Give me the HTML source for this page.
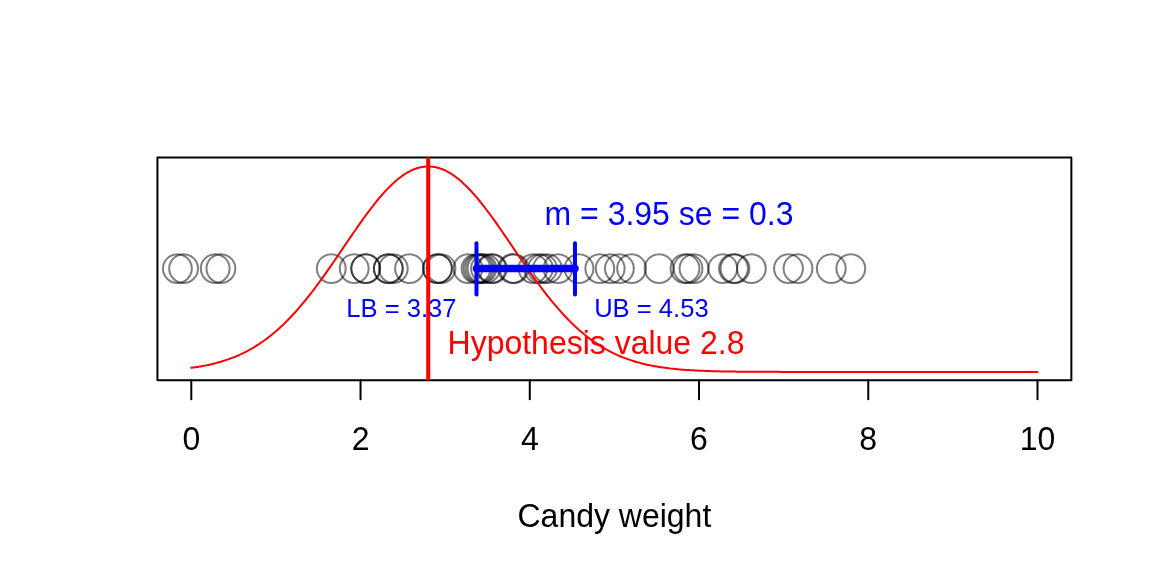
<!DOCTYPE html>
<html><head><meta charset="utf-8"><style>
html,body{margin:0;padding:0;background:#fff;}
svg{display:block;will-change:transform;}
text{font-family:"Liberation Sans",Arial,Helvetica,sans-serif;}
</style></head><body>
<svg width="1152" height="576" viewBox="0 0 1152 576">
<rect x="0" y="0" width="1152" height="576" fill="#fff"/>
<g fill="none" stroke="#000" stroke-opacity="0.5" stroke-width="2"><circle cx="177.4" cy="268.60" r="14.4"/><circle cx="183.6" cy="268.60" r="14.4"/><circle cx="215.2" cy="268.60" r="14.4"/><circle cx="220.9" cy="268.60" r="14.4"/><circle cx="331.3" cy="268.60" r="14.4"/><circle cx="354.2" cy="268.60" r="14.4"/><circle cx="365.7" cy="268.60" r="14.4"/><circle cx="365.7" cy="268.60" r="14.4"/><circle cx="388.3" cy="268.60" r="14.4"/><circle cx="388.3" cy="268.60" r="14.4"/><circle cx="393.3" cy="268.60" r="14.4"/><circle cx="409.5" cy="268.60" r="14.4"/><circle cx="437.5" cy="268.60" r="14.4"/><circle cx="437.5" cy="268.60" r="14.4"/><circle cx="441.0" cy="268.60" r="14.4"/><circle cx="468.0" cy="268.60" r="14.4"/><circle cx="476.0" cy="268.60" r="14.4"/><circle cx="478.0" cy="268.60" r="14.4"/><circle cx="480.0" cy="268.60" r="14.4"/><circle cx="482.0" cy="268.60" r="14.4"/><circle cx="485.5" cy="268.60" r="14.4"/><circle cx="491.5" cy="268.60" r="14.4"/><circle cx="492.5" cy="268.60" r="14.4"/><circle cx="512.5" cy="268.60" r="14.4"/><circle cx="514.0" cy="268.60" r="14.4"/><circle cx="533.0" cy="268.60" r="14.4"/><circle cx="538.5" cy="268.60" r="14.4"/><circle cx="542.5" cy="268.60" r="14.4"/><circle cx="547.5" cy="268.60" r="14.4"/><circle cx="558.0" cy="268.60" r="14.4"/><circle cx="579.0" cy="268.60" r="14.4"/><circle cx="599.8" cy="268.60" r="14.4"/><circle cx="610.2" cy="268.60" r="14.4"/><circle cx="619.4" cy="268.60" r="14.4"/><circle cx="631.6" cy="268.60" r="14.4"/><circle cx="659.1" cy="268.60" r="14.4"/><circle cx="685.0" cy="268.60" r="14.4"/><circle cx="688.0" cy="268.60" r="14.4"/><circle cx="694.0" cy="268.60" r="14.4"/><circle cx="722.8" cy="268.60" r="14.4"/><circle cx="733.5" cy="268.60" r="14.4"/><circle cx="735.0" cy="268.60" r="14.4"/><circle cx="751.4" cy="268.60" r="14.4"/><circle cx="788.5" cy="268.60" r="14.4"/><circle cx="798.0" cy="268.60" r="14.4"/><circle cx="831.3" cy="268.60" r="14.4"/><circle cx="850.8" cy="268.60" r="14.4"/></g>
<rect x="157.44" y="157.44" width="913.92" height="222.72" fill="none" stroke="#000" stroke-width="2" stroke-linejoin="round"/>
<g stroke="#000" stroke-width="2" stroke-linecap="round"><line x1="191.29" y1="380.16" x2="191.29" y2="399.36"/><line x1="360.53" y1="380.16" x2="360.53" y2="399.36"/><line x1="529.78" y1="380.16" x2="529.78" y2="399.36"/><line x1="699.02" y1="380.16" x2="699.02" y2="399.36"/><line x1="868.27" y1="380.16" x2="868.27" y2="399.36"/><line x1="1037.51" y1="380.16" x2="1037.51" y2="399.36"/></g>
<polyline points="191.29,367.83 193.40,367.54 195.52,367.23 197.64,366.89 199.75,366.54 201.87,366.17 203.98,365.77 206.10,365.36 208.21,364.91 210.33,364.45 212.44,363.95 214.56,363.43 216.68,362.88 218.79,362.30 220.91,361.69 223.02,361.05 225.14,360.37 227.25,359.66 229.37,358.92 231.48,358.14 233.60,357.32 235.72,356.46 237.83,355.56 239.95,354.62 242.06,353.64 244.18,352.61 246.29,351.54 248.41,350.42 250.52,349.25 252.64,348.04 254.76,346.78 256.87,345.46 258.99,344.10 261.10,342.68 263.22,341.21 265.33,339.69 267.45,338.11 269.56,336.47 271.68,334.79 273.80,333.04 275.91,331.24 278.03,329.38 280.14,327.46 282.26,325.49 284.37,323.46 286.49,321.37 288.60,319.23 290.72,317.03 292.84,314.77 294.95,312.46 297.07,310.09 299.18,307.66 301.30,305.19 303.41,302.66 305.53,300.08 307.64,297.45 309.76,294.78 311.88,292.05 313.99,289.29 316.11,286.48 318.22,283.63 320.34,280.74 322.45,277.82 324.57,274.86 326.68,271.87 328.80,268.86 330.92,265.82 333.03,262.76 335.15,259.68 337.26,256.59 339.38,253.48 341.49,250.37 343.61,247.26 345.72,244.14 347.84,241.03 349.96,237.93 352.07,234.83 354.19,231.76 356.30,228.70 358.42,225.67 360.53,222.67 362.65,219.70 364.76,216.78 366.88,213.89 369.00,211.05 371.11,208.26 373.23,205.53 375.34,202.85 377.46,200.25 379.57,197.71 381.69,195.24 383.80,192.85 385.92,190.54 388.04,188.32 390.15,186.18 392.27,184.14 394.38,182.19 396.50,180.34 398.61,178.60 400.73,176.96 402.84,175.43 404.96,174.02 407.08,172.71 409.19,171.53 411.31,170.46 413.42,169.51 415.54,168.69 417.65,167.99 419.77,167.42 421.88,166.97 424.00,166.65 426.12,166.45 428.23,166.39 430.35,166.45 432.46,166.65 434.58,166.97 436.69,167.42 438.81,167.99 440.92,168.69 443.04,169.51 445.16,170.46 447.27,171.53 449.39,172.71 451.50,174.02 453.62,175.43 455.73,176.96 457.85,178.60 459.96,180.34 462.08,182.19 464.20,184.14 466.31,186.18 468.43,188.32 470.54,190.54 472.66,192.85 474.77,195.24 476.89,197.71 479.00,200.25 481.12,202.85 483.24,205.53 485.35,208.26 487.47,211.05 489.58,213.89 491.70,216.78 493.81,219.70 495.93,222.67 498.04,225.67 500.16,228.70 502.28,231.76 504.39,234.83 506.51,237.93 508.62,241.03 510.74,244.14 512.85,247.26 514.97,250.37 517.08,253.48 519.20,256.59 521.32,259.68 523.43,262.76 525.55,265.82 527.66,268.86 529.78,271.87 531.89,274.86 534.01,277.82 536.12,280.74 538.24,283.63 540.36,286.48 542.47,289.29 544.59,292.05 546.70,294.78 548.82,297.45 550.93,300.08 553.05,302.66 555.16,305.19 557.28,307.66 559.40,310.09 561.51,312.46 563.63,314.77 565.74,317.03 567.86,319.23 569.97,321.37 572.09,323.46 574.20,325.49 576.32,327.46 578.44,329.38 580.55,331.24 582.67,333.04 584.78,334.79 586.90,336.47 589.01,338.11 591.13,339.69 593.24,341.21 595.36,342.68 597.48,344.10 599.59,345.46 601.71,346.78 603.82,348.04 605.94,349.25 608.05,350.42 610.17,351.54 612.28,352.61 614.40,353.64 616.52,354.62 618.63,355.56 620.75,356.46 622.86,357.32 624.98,358.14 627.09,358.92 629.21,359.66 631.32,360.37 633.44,361.05 635.56,361.69 637.67,362.30 639.79,362.88 641.90,363.43 644.02,363.95 646.13,364.45 648.25,364.91 650.36,365.36 652.48,365.77 654.60,366.17 656.71,366.54 658.83,366.89 660.94,367.23 663.06,367.54 665.17,367.83 667.29,368.11 669.40,368.37 671.52,368.62 673.64,368.84 675.75,369.06 677.87,369.26 679.98,369.45 682.10,369.63 684.21,369.79 686.33,369.95 688.44,370.09 690.56,370.23 692.68,370.35 694.79,370.47 696.91,370.58 699.02,370.68 701.14,370.78 703.25,370.87 705.37,370.95 707.48,371.02 709.60,371.09 711.72,371.16 713.83,371.22 715.95,371.28 718.06,371.33 720.18,371.38 722.29,371.42 724.41,371.46 726.52,371.50 728.64,371.53 730.76,371.57 732.87,371.60 734.99,371.62 737.10,371.65 739.22,371.67 741.33,371.69 743.45,371.71 745.56,371.73 747.68,371.75 749.80,371.76 751.91,371.77 754.03,371.79 756.14,371.80 758.26,371.81 760.37,371.82 762.49,371.83 764.60,371.83 766.72,371.84 768.84,371.85 770.95,371.85 773.07,371.86 775.18,371.87 777.30,371.87 779.41,371.87 781.53,371.88 783.64,371.88 785.76,371.88 787.88,371.89 789.99,371.89 792.11,371.89 794.22,371.89 796.34,371.90 798.45,371.90 800.57,371.90 802.68,371.90 804.80,371.90 806.92,371.90 809.03,371.90 811.15,371.90 813.26,371.90 815.38,371.91 817.49,371.91 819.61,371.91 821.72,371.91 823.84,371.91 825.96,371.91 828.07,371.91 830.19,371.91 832.30,371.91 834.42,371.91 836.53,371.91 838.65,371.91 840.76,371.91 842.88,371.91 845.00,371.91 847.11,371.91 849.23,371.91 851.34,371.91 853.46,371.91 855.57,371.91 857.69,371.91 859.80,371.91 861.92,371.91 864.04,371.91 866.15,371.91 868.27,371.91 870.38,371.91 872.50,371.91 874.61,371.91 876.73,371.91 878.84,371.91 880.96,371.91 883.08,371.91 885.19,371.91 887.31,371.91 889.42,371.91 891.54,371.91 893.65,371.91 895.77,371.91 897.88,371.91 900.00,371.91 902.12,371.91 904.23,371.91 906.35,371.91 908.46,371.91 910.58,371.91 912.69,371.91 914.81,371.91 916.92,371.91 919.04,371.91 921.16,371.91 923.27,371.91 925.39,371.91 927.50,371.91 929.62,371.91 931.73,371.91 933.85,371.91 935.96,371.91 938.08,371.91 940.20,371.91 942.31,371.91 944.43,371.91 946.54,371.91 948.66,371.91 950.77,371.91 952.89,371.91 955.00,371.91 957.12,371.91 959.24,371.91 961.35,371.91 963.47,371.91 965.58,371.91 967.70,371.91 969.81,371.91 971.93,371.91 974.04,371.91 976.16,371.91 978.28,371.91 980.39,371.91 982.51,371.91 984.62,371.91 986.74,371.91 988.85,371.91 990.97,371.91 993.08,371.91 995.20,371.91 997.32,371.91 999.43,371.91 1001.55,371.91 1003.66,371.91 1005.78,371.91 1007.89,371.91 1010.01,371.91 1012.12,371.91 1014.24,371.91 1016.36,371.91 1018.47,371.91 1020.59,371.91 1022.70,371.91 1024.82,371.91 1026.93,371.91 1029.05,371.91 1031.16,371.91 1033.28,371.91 1035.40,371.91 1037.51,371.91" fill="none" stroke="#f00" stroke-width="2" stroke-linejoin="round" stroke-linecap="round"/>
<line x1="476.47" y1="268.60" x2="574.97" y2="268.60" stroke="#00f" stroke-width="7.5" stroke-linecap="round"/>
<line x1="476.47" y1="243.2" x2="476.47" y2="294.5" stroke="#00f" stroke-width="4" stroke-linecap="round"/>
<line x1="574.97" y1="243.2" x2="574.97" y2="294.5" stroke="#00f" stroke-width="4" stroke-linecap="round"/>
<g fill="#00f">
<text transform="translate(669 225.2) scale(1 1.04)" font-size="32" text-anchor="middle">m = 3.95 se = 0.3</text>
<text transform="translate(401.4 316.7) scale(1 1.04)" font-size="25.6" text-anchor="middle">LB = 3.37</text>
<text transform="translate(651.4 316.7) scale(1 1.04)" font-size="25.6" text-anchor="middle">UB = 4.53</text>
</g>
<line x1="428.23" y1="157.44" x2="428.23" y2="380.16" stroke="#f00" stroke-width="4"/>
<text transform="translate(596 353.9) scale(1 1.04)" font-size="32" text-anchor="middle" fill="#f00">Hypothesis value 2.8</text>
<g font-size="32" text-anchor="middle" fill="#000"><text transform="translate(191.29 450) scale(1 1.04)">0</text><text transform="translate(360.53 450) scale(1 1.04)">2</text><text transform="translate(529.78 450) scale(1 1.04)">4</text><text transform="translate(699.02 450) scale(1 1.04)">6</text><text transform="translate(868.27 450) scale(1 1.04)">8</text><text transform="translate(1037.51 450) scale(1 1.04)">10</text>
<text transform="translate(614.4 526.9) scale(1 1.04)">Candy weight</text>
</g>
</svg>
</body></html>
